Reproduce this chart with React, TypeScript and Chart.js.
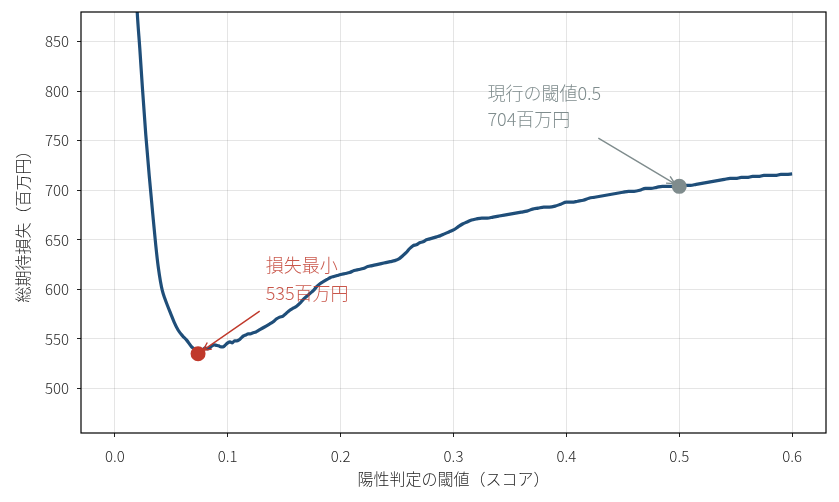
import React, { useEffect, useRef } from "react";
import { Chart, registerables } from "chart.js";

Chart.register(...registerables);

// ---- data ----
const thresholds = [
  0.0, 0.005, 0.01, 0.015, 0.0198, 0.0221, 0.0245, 0.0274, 0.0305, 0.0335, 0.0362, 0.0385, 0.0404,
  0.042, 0.0442, 0.0465, 0.0493, 0.0525, 0.056, 0.06, 0.0634, 0.068, 0.071, 0.0737, 0.076, 0.078,
  0.08, 0.082, 0.084, 0.086, 0.088, 0.09, 0.092, 0.094, 0.096, 0.098,
  0.1, 0.102, 0.104, 0.106, 0.108, 0.11, 0.112, 0.114, 0.116, 0.118, 0.12, 0.122, 0.125, 0.128,
  0.131, 0.134, 0.137, 0.14, 0.143, 0.146, 0.149, 0.152, 0.155, 0.158, 0.161, 0.164, 0.167, 0.17,
  0.173, 0.176, 0.179, 0.182, 0.185, 0.188, 0.191, 0.194, 0.197, 0.2, 0.204, 0.208, 0.212, 0.216,
  0.22, 0.224, 0.228, 0.232, 0.236, 0.24, 0.244, 0.248, 0.252, 0.255, 0.258, 0.261, 0.264, 0.267,
  0.27, 0.273, 0.276, 0.279, 0.282, 0.285, 0.288, 0.292, 0.296, 0.3, 0.304, 0.308, 0.312, 0.316,
  0.32, 0.325, 0.33, 0.335, 0.34, 0.345, 0.35, 0.355, 0.36, 0.365, 0.37, 0.375, 0.38, 0.385, 0.39,
  0.395, 0.4, 0.405, 0.41, 0.415, 0.42, 0.425, 0.43, 0.435, 0.44, 0.445, 0.45, 0.455, 0.46, 0.465,
  0.47, 0.475, 0.48, 0.485, 0.49, 0.495, 0.5, 0.505, 0.51, 0.515, 0.52, 0.525, 0.53, 0.535, 0.54,
  0.545, 0.55, 0.555, 0.56, 0.565, 0.57, 0.575, 0.58, 0.585, 0.59, 0.595, 0.6,
];
const expectedLoss = [
  1560, 1330, 1150, 1000, 880, 843, 802, 756, 714, 677, 645, 622, 608,
  599, 591, 584, 576, 567, 559, 553, 549, 542, 539, 535, 537, 539,
  541, 540, 541, 543, 544, 543.5, 543, 542, 542, 544,
  546, 547, 546, 548, 548, 549, 551, 553, 554, 555, 555, 556, 557, 559,
  561, 563, 565, 567, 570, 572, 573, 576, 579, 581, 583, 586, 590, 593,
  596, 599, 603, 606, 608, 610, 612, 613, 614, 615, 616, 617, 619, 620,
  621, 623, 624, 625, 626, 627, 628, 629, 631, 634, 637, 641, 644, 645,
  647, 648, 650, 651, 652, 653, 654, 656, 658, 660, 663, 666, 668, 670,
  671, 672, 672, 673, 674, 675, 676, 677, 678, 679, 681, 682, 683, 683, 684,
  686, 688, 688, 689, 690, 692, 693, 694, 695, 696, 697, 698, 699, 699, 700,
  702, 702, 703, 704, 704, 704, 704, 705, 705, 706, 707, 708, 709, 710, 711,
  712, 712, 713, 713, 714, 714, 715, 715, 715, 716, 716, 716.5,
];
const xTickValues = [0, 0.1, 0.2, 0.3, 0.4, 0.5, 0.6];
const yTickValues = [500, 550, 600, 650, 700, 750, 800, 850];
const minPoint = { x: 0.0737, y: 535 };
const currentPoint = { x: 0.5, y: 704 };
const minLabelLines = ["損失最小", "535百万円"];
const currentLabelLines = ["現行の閾値0.5", "704百万円"];
// annotation text / arrow-tail anchors in data units
const minLabelAnchor = { x: 0.1336, y1: 624.8, y2: 596.4 };
const minArrowTail = { x: 0.1283, y: 578.1 };
const currentLabelAnchor = { x: 0.3301, y1: 798.3, y2: 771.9 };
const currentArrowTail = { x: 0.4283, y: 752.6 };

const FONT = "'Noto Sans CJK JP', 'Noto Sans', sans-serif";
const WEIGHT = 300;
const LINE_COLOR = "#1f4e79";
const RED = "#c0392b";
const GRAY = "#7f8c8d";

function drawArrow(ctx: CanvasRenderingContext2D, x1: number, y1: number, x2: number, y2: number, color: string, shrink: number) {
  const dx = x2 - x1;
  const dy = y2 - y1;
  const len = Math.hypot(dx, dy);
  const ux = dx / len;
  const uy = dy / len;
  const ex = x2 - ux * shrink;
  const ey = y2 - uy * shrink;
  ctx.save();
  ctx.strokeStyle = color;
  ctx.lineWidth = 1.4;
  ctx.beginPath();
  ctx.moveTo(x1, y1);
  ctx.lineTo(ex, ey);
  const hl = 8;
  const hw = 4;
  ctx.moveTo(ex - ux * hl - uy * hw, ey - uy * hl + ux * hw);
  ctx.lineTo(ex, ey);
  ctx.lineTo(ex - ux * hl + uy * hw, ey - uy * hl - ux * hw);
  ctx.stroke();
  ctx.restore();
}

const overlayPlugin = {
  id: "overlay",
  afterDatasetsDraw(chart: any) {
    const { ctx, chartArea, scales } = chart;
    const xs = scales.x;
    const ys = scales.y;
    // frame
    ctx.save();
    ctx.strokeStyle = "#000";
    ctx.lineWidth = 1.2;
    ctx.strokeRect(chartArea.left, chartArea.top, chartArea.right - chartArea.left, chartArea.bottom - chartArea.top);
    ctx.restore();

    // arrows
    drawArrow(
      ctx,
      xs.getPixelForValue(minArrowTail.x),
      ys.getPixelForValue(minArrowTail.y),
      xs.getPixelForValue(minPoint.x),
      ys.getPixelForValue(minPoint.y),
      RED,
      6
    );
    drawArrow(
      ctx,
      xs.getPixelForValue(currentArrowTail.x),
      ys.getPixelForValue(currentArrowTail.y),
      xs.getPixelForValue(currentPoint.x),
      ys.getPixelForValue(currentPoint.y),
      GRAY,
      5
    );

    // texts
    ctx.save();
    ctx.font = `${WEIGHT} 18px ${FONT}`;
    ctx.textAlign = "left";
    ctx.textBaseline = "middle";
    ctx.fillStyle = RED;
    ctx.globalAlpha = 0.85;
    ctx.fillText(minLabelLines[0], xs.getPixelForValue(minLabelAnchor.x), ys.getPixelForValue(minLabelAnchor.y1));
    ctx.fillText(minLabelLines[1], xs.getPixelForValue(minLabelAnchor.x), ys.getPixelForValue(minLabelAnchor.y2));
    ctx.fillStyle = GRAY;
    ctx.globalAlpha = 1;
    ctx.fillText(currentLabelLines[0], xs.getPixelForValue(currentLabelAnchor.x), ys.getPixelForValue(currentLabelAnchor.y1));
    ctx.fillText(currentLabelLines[1], xs.getPixelForValue(currentLabelAnchor.x), ys.getPixelForValue(currentLabelAnchor.y2));
    ctx.restore();
  },
};

export default function App() {
  const canvasRef = useRef<HTMLCanvasElement | null>(null);

  useEffect(() => {
    document.body.style.margin = "0";
    const canvas = canvasRef.current;
    if (!canvas) return;
    const lossData = thresholds.map((t, i) => ({ x: t, y: expectedLoss[i] }));
    const chart = new Chart(canvas, {
      type: "scatter",
      data: {
        datasets: [
          {
            type: "line",
            data: [minPoint],
            showLine: false,
            pointRadius: 7.5,
            pointHoverRadius: 7.5,
            pointBackgroundColor: RED,
            pointBorderColor: RED,
            pointBorderWidth: 0,
            order: 0,
          } as any,
          {
            type: "line",
            data: [currentPoint],
            showLine: false,
            pointRadius: 7.5,
            pointHoverRadius: 7.5,
            pointBackgroundColor: GRAY,
            pointBorderColor: GRAY,
            pointBorderWidth: 0,
            order: 0,
          } as any,
          {
            type: "line",
            data: lossData,
            borderColor: LINE_COLOR,
            borderWidth: 3.2,
            pointRadius: 0,
            cubicInterpolationMode: "monotone",
            fill: false,
            order: 1,
          } as any,
        ],
      },
      options: {
        animation: false,
        responsive: true,
        maintainAspectRatio: false,
        layout: { padding: { top: 12, right: 13, left: 0, bottom: 0 } },
        plugins: {
          legend: { display: false },
          tooltip: { enabled: false },
        },
        scales: {
          x: {
            type: "linear",
            min: -0.03,
            max: 0.63,
            afterBuildTicks: (scale: any) => {
              scale.ticks = xTickValues.map((v) => ({ value: v }));
            },
            afterFit: (scale: any) => {
              scale.height = 69;
              scale.paddingLeft = 0;
              scale.paddingRight = 0;
            },
            grid: {
              color: "rgba(0,0,0,0.1)",
              lineWidth: 1,
              drawTicks: true,
              tickLength: 4,
              tickColor: "#222",
              tickWidth: 1,
            },
            border: { display: false },
            ticks: {
              padding: 10,
              color: "#262626",
              font: { family: FONT, size: 15, weight: WEIGHT as any },
              callback: (v: any) => Number(v).toFixed(1),
              maxRotation: 0,
              autoSkip: false,
            },
            title: {
              display: true,
              text: "陽性判定の閾値（スコア）",
              color: "#262626",
              font: { family: FONT, size: 16, weight: WEIGHT as any },
              padding: { top: 0, bottom: 13 },
            },
          },
          y: {
            type: "linear",
            min: 455,
            max: 880,
            afterBuildTicks: (scale: any) => {
              scale.ticks = yTickValues.map((v) => ({ value: v }));
            },
            afterFit: (scale: any) => {
              scale.width = 81;
              scale.paddingTop = 0;
              scale.paddingBottom = 0;
            },
            grid: {
              color: "rgba(0,0,0,0.1)",
              lineWidth: 1,
              drawTicks: true,
              tickLength: 4,
              tickColor: "#222",
              tickWidth: 1,
            },
            border: { display: false },
            ticks: {
              padding: 8,
              color: "#262626",
              font: { family: FONT, size: 15, weight: WEIGHT as any },
              callback: (v: any) => String(v),
              autoSkip: false,
            },
            title: {
              display: true,
              text: "総期待損失（百万円）",
              color: "#262626",
              font: { family: FONT, size: 16, weight: WEIGHT as any },
              padding: { top: 13, bottom: 0 },
            },
          },
        },
      },
      plugins: [overlayPlugin],
    });
    return () => chart.destroy();
  }, []);

  return (
    <div style={{ position: "absolute", left: 0, top: 0, width: 839, height: 502 }}>
      <canvas ref={canvasRef} />
    </div>
  );
}
